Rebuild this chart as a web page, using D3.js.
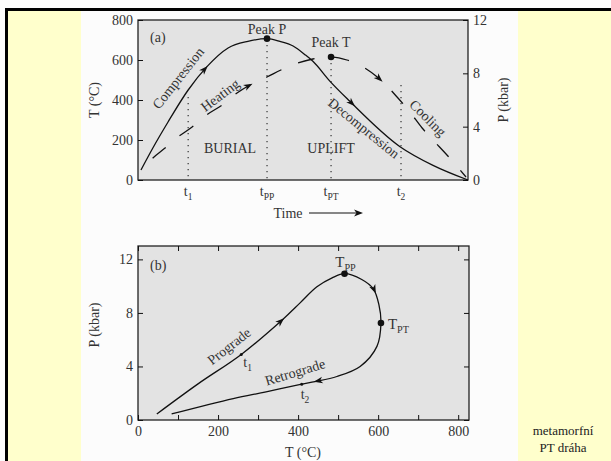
<!DOCTYPE html>
<html><head><meta charset="utf-8">
<script src="https://cdn.jsdelivr.net/npm/d3@7"></script>
<style>
body{margin:0;background:#fff;}
svg{display:block;}
svg text{font-family:"Liberation Serif","DejaVu Serif",serif;}
</style></head><body>
<svg id="chart" width="611" height="461" font-family="Liberation Serif, DejaVu Serif, serif"></svg>
<script>
// panel (a): pressure (solid) and temperature (dashed) against time
const pTime = [0.9, 4.5, 9.1, 15.2, 20.9, 27.3, 33.3, 39.1, 43, 47, 50.6, 53, 58.2, 64.2, 79.4, 89.4, 100];
const pVals = [0.75, 2.4, 4.35, 6.75, 8.5, 9.9, 10.4, 10.6, 10.4, 10.05, 9.4, 8.9, 7.4, 5.9, 2.5, 1.1, 0];
const tTime = [0.9, 4.2, 8.2, 12.1, 16.4, 21.2, 25.5, 30, 34.5, 39.1, 43.3, 48.5, 53, 58.5, 63.3, 68.2, 73.9, 78.5, 82.4, 86.1, 89.4, 93.9, 97.6, 99.4];
const tVals = [40, 105, 160, 215, 265, 330, 375, 435, 480, 515, 550, 585, 605, 615, 600, 565, 495, 415, 340, 260, 200, 120, 50, 15];
const pArrows = [[20.9, 8.5], [65.2, 5.5]];
const tArrows = [[34.5, 480], [73.9, 495]];
// time markers: name, subscript, time, top of dotted line (in T units)
const markNames = ["t", "t", "t", "t"];
const markSubs = ["1", "PP", "PT", "2"];
const markTimes = [15.2, 39.1, 58.5, 79.7];
const markTops = [415, 705, 615, 475];
const tTicksA = [0, 200, 400, 600, 800];
const pTicksA = [0, 4, 8, 12];

// panel (b): P-T path
const pathT = [47, 150, 258, 363, 405, 447, 485, 516, 559, 588, 602, 607, 597, 555, 497, 442, 409, 320, 238, 84];
const pathP = [0.45, 2.7, 4.9, 7.55, 8.75, 9.95, 10.62, 10.93, 10.5, 9.8, 8.6, 7.25, 5.5, 4.0, 3.25, 2.87, 2.68, 2.1, 1.6, 0.45];
const bArrows = [[363, 7.55], [592, 9.5], [442, 2.87]];
const bigDots = [[516, 10.93, "PP"], [607, 7.25, "PT"]];
const smallDots = [[258, 4.9, "1"], [409, 2.68, "2"]];
const tTicksB = d3.range(0, 801, 100);
const pTicksB = [0, 4, 8, 12];

const ink = "#111", txt = "#333";
const serif = "Liberation Serif, DejaVu Serif, serif";
const svg = d3.select("#chart");

// page background
svg.append("rect").attr("width", 611).attr("height", 461).attr("fill", "#fcfcfc");
svg.append("rect").attr("x", 8).attr("y", 11).attr("width", 73).attr("height", 450).attr("fill", "#ffffcc");
svg.append("rect").attr("x", 518).attr("y", 11).attr("width", 93).attr("height", 450).attr("fill", "#ffffcc");
svg.append("rect").attr("x", 5).attr("y", 8).attr("width", 606).attr("height", 3).attr("fill", "#000");
svg.append("rect").attr("x", 5).attr("y", 8).attr("width", 3).attr("height", 453).attr("fill", "#000");

function styleAxis(g) {
    g.attr("font-family", serif).attr("font-size", 14);
    g.select(".domain").remove();
    g.selectAll("line").attr("stroke", ink);
    g.selectAll("text").attr("fill", txt);
}

function addArrow(g, path, px, py) {
    const node = path.node();
    const L = node.getTotalLength();
    let best = 0, bd = Infinity;
    for (let l = 0; l <= L; l += 0.5) {
        const p = node.getPointAtLength(l);
        const d = (p.x - px) ** 2 + (p.y - py) ** 2;
        if (d < bd) { bd = d; best = l; }
    }
    const a = node.getPointAtLength(Math.max(0, best - 2));
    const b = node.getPointAtLength(Math.min(L, best + 2));
    const ang = Math.atan2(b.y - a.y, b.x - a.x) * 180 / Math.PI;
    const p = node.getPointAtLength(best);
    g.append("path").attr("d", "M1,0L-8,-3.3L-5.5,0L-8,3.3Z")
        .attr("transform", `translate(${p.x},${p.y}) rotate(${ang})`)
        .attr("fill", ink);
}

function subText(g, x, y, main, sub, anchor, size) {
    const t = g.append("text").attr("x", x).attr("y", y).attr("text-anchor", anchor || "middle")
        .attr("font-family", serif).attr("font-size", size || 14).attr("fill", txt);
    t.append("tspan").text(main);
    t.append("tspan").attr("dy", 4).attr("font-size", (size || 14) * 0.68).text(sub);
    return t;
}

function label(g, x, y, s, opts) {
    opts = opts || {};
    return g.append("text").attr("x", x).attr("y", y)
        .attr("text-anchor", opts.anchor || "middle")
        .attr("font-family", serif).attr("font-size", opts.size || 14)
        .attr("fill", opts.fill || txt).text(s);
}

function rotText(g, x, y, ang, s) {
    g.append("text").attr("transform", `translate(${x},${y}) rotate(${ang})`)
        .attr("text-anchor", "middle").attr("dy", "0.35em")
        .attr("font-family", serif).attr("font-size", 14).attr("fill", txt).text(s);
}

/*********** PANEL (a) ***********/
const xA = d3.scaleLinear().domain([0, 100]).range([138, 468]);
const yT = d3.scaleLinear().domain([0, 800]).range([180, 20]);
const yP = d3.scaleLinear().domain([0, 12]).range([180, 20]);
const ga = svg.append("g");
ga.append("rect").attr("x", 138).attr("y", 20).attr("width", 330).attr("height", 160)
    .attr("fill", "#e3e3e3").attr("stroke", "#222").attr("stroke-width", 1.3);

ga.append("g").attr("transform", "translate(138,0)")
    .call(d3.axisLeft(yT).tickValues(tTicksA).tickSize(-5).tickPadding(5)).call(styleAxis);
ga.append("g").attr("transform", "translate(468,0)")
    .call(d3.axisRight(yP).tickValues(pTicksA).tickSize(-5).tickPadding(5)).call(styleAxis);

// dotted time markers
markTimes.forEach((t, i) => {
    ga.append("line").attr("x1", xA(t)).attr("x2", xA(t)).attr("y1", yT(markTops[i])).attr("y2", 180)
        .attr("stroke", "#333").attr("stroke-width", 1.2).attr("stroke-dasharray", "1.2,4.8");
    subText(ga, xA(t), 196, markNames[i], markSubs[i]);
});

const lineP = d3.line().x((d, i) => xA(pTime[i])).y(d => yP(d)).curve(d3.curveMonotoneX);
const lineT = d3.line().x((d, i) => xA(tTime[i])).y(d => yT(d)).curve(d3.curveMonotoneX);
const pPath = ga.append("path").attr("d", lineP(pVals)).attr("fill", "none")
    .attr("stroke", ink).attr("stroke-width", 1.3);
const tPath = ga.append("path").attr("d", lineT(tVals)).attr("fill", "none")
    .attr("stroke", ink).attr("stroke-width", 1.3)
    .attr("stroke-dasharray", "17,18").attr("stroke-dashoffset", 17);
pArrows.forEach(d => addArrow(ga, pPath, xA(d[0]), yP(d[1])));
tArrows.forEach(d => addArrow(ga, tPath, xA(d[0]), yT(d[1])));

// peaks
const iPP = pVals.indexOf(d3.max(pVals));
const iPT = tVals.indexOf(d3.max(tVals));
ga.append("circle").attr("cx", xA(pTime[iPP])).attr("cy", yP(pVals[iPP])).attr("r", 3.3).attr("fill", ink);
ga.append("circle").attr("cx", xA(tTime[iPT])).attr("cy", yT(tVals[iPT])).attr("r", 3.3).attr("fill", ink);
label(ga, xA(pTime[iPP]), 34, "Peak P");
label(ga, xA(tTime[iPT]), 47, "Peak T");

label(ga, 150, 42, "(a)", {anchor: "start"});
label(ga, 230, 153, "BURIAL");
label(ga, 331, 153, "UPLIFT");
rotText(ga, 178, 78, -51.6, "Compression");
rotText(ga, 220, 95, -37, "Heating");
rotText(ga, 364, 128, 39, "Decompression");
rotText(ga, 428, 118, 45, "Cooling");

ga.append("text").attr("transform", "translate(99,100) rotate(-90)").attr("text-anchor", "middle")
    .attr("font-family", serif).attr("font-size", 14).attr("fill", txt).text("T (°C)");
ga.append("text").attr("transform", "translate(508,100) rotate(-90)").attr("text-anchor", "middle")
    .attr("font-family", serif).attr("font-size", 14).attr("fill", txt).text("P (kbar)");
label(ga, 288, 218, "Time");
ga.append("line").attr("x1", 309).attr("x2", 360).attr("y1", 213).attr("y2", 213)
    .attr("stroke", ink).attr("stroke-width", 1);
ga.append("path").attr("d", "M363,213L354,209.5L356.5,213L354,216.5Z").attr("fill", ink);

/*********** PANEL (b) ***********/
const xB = d3.scaleLinear().domain([0, 827]).range([138, 469]);
const yB = d3.scaleLinear().domain([0, 13]).range([420, 246]);
const gb = svg.append("g");
gb.append("rect").attr("x", 138).attr("y", 246).attr("width", 331).attr("height", 174)
    .attr("fill", "#e3e3e3").attr("stroke", "#222").attr("stroke-width", 1.3);

gb.append("g").attr("transform", "translate(0,420)")
    .call(d3.axisBottom(xB).tickValues(tTicksB).tickSize(-5).tickPadding(6)
        .tickFormat(d => d % 200 === 0 ? d : "")).call(styleAxis);
gb.append("g").attr("transform", "translate(0,246)")
    .call(d3.axisTop(xB).tickValues(tTicksB).tickSize(-5).tickFormat("")).call(styleAxis);
gb.append("g").attr("transform", "translate(138,0)")
    .call(d3.axisLeft(yB).tickValues(pTicksB).tickSize(-5).tickPadding(5)).call(styleAxis);
gb.append("g").attr("transform", "translate(469,0)")
    .call(d3.axisRight(yB).tickValues(pTicksB).tickSize(-5).tickFormat("")).call(styleAxis);

const lineB = d3.line().x((d, i) => xB(pathT[i])).y(d => yB(d)).curve(d3.curveCatmullRom.alpha(0.5));
const bPath = gb.append("path").attr("d", lineB(pathP)).attr("fill", "none")
    .attr("stroke", ink).attr("stroke-width", 1.3);
bArrows.forEach(d => addArrow(gb, bPath, xB(d[0]), yB(d[1])));

bigDots.forEach(d => {
    gb.append("circle").attr("cx", xB(d[0])).attr("cy", yB(d[1])).attr("r", 3.3).attr("fill", ink);
});
smallDots.forEach(d => {
    gb.append("circle").attr("cx", xB(d[0])).attr("cy", yB(d[1])).attr("r", 1.5).attr("fill", ink);
});
subText(gb, xB(bigDots[0][0]) + 1, yB(bigDots[0][1]) - 7, "T", bigDots[0][2], "middle", 15);
subText(gb, xB(bigDots[1][0]) + 7, yB(bigDots[1][1]) + 6, "T", bigDots[1][2], "start", 15);
subText(gb, xB(smallDots[0][0]) + 2, yB(smallDots[0][1]) + 13, "t", smallDots[0][2], "start");
subText(gb, xB(smallDots[1][0]) - 1, yB(smallDots[1][1]) + 15, "t", smallDots[1][2], "start");

label(gb, 150, 270, "(b)", {anchor: "start"});
rotText(gb, 229, 346, -38, "Prograde");
rotText(gb, 295, 372, -17, "Retrograde");

gb.append("text").attr("transform", "translate(99,325) rotate(-90)").attr("text-anchor", "middle")
    .attr("font-family", serif).attr("font-size", 14).attr("fill", txt).text("P (kbar)");
label(gb, 303, 457, "T (°C)");

// caption in the right yellow panel
label(svg, 563, 435, "metamorfní", {size: 13, fill: "#222"});
label(svg, 563, 452, "PT dráha", {size: 13, fill: "#222"});
</script></body></html>
